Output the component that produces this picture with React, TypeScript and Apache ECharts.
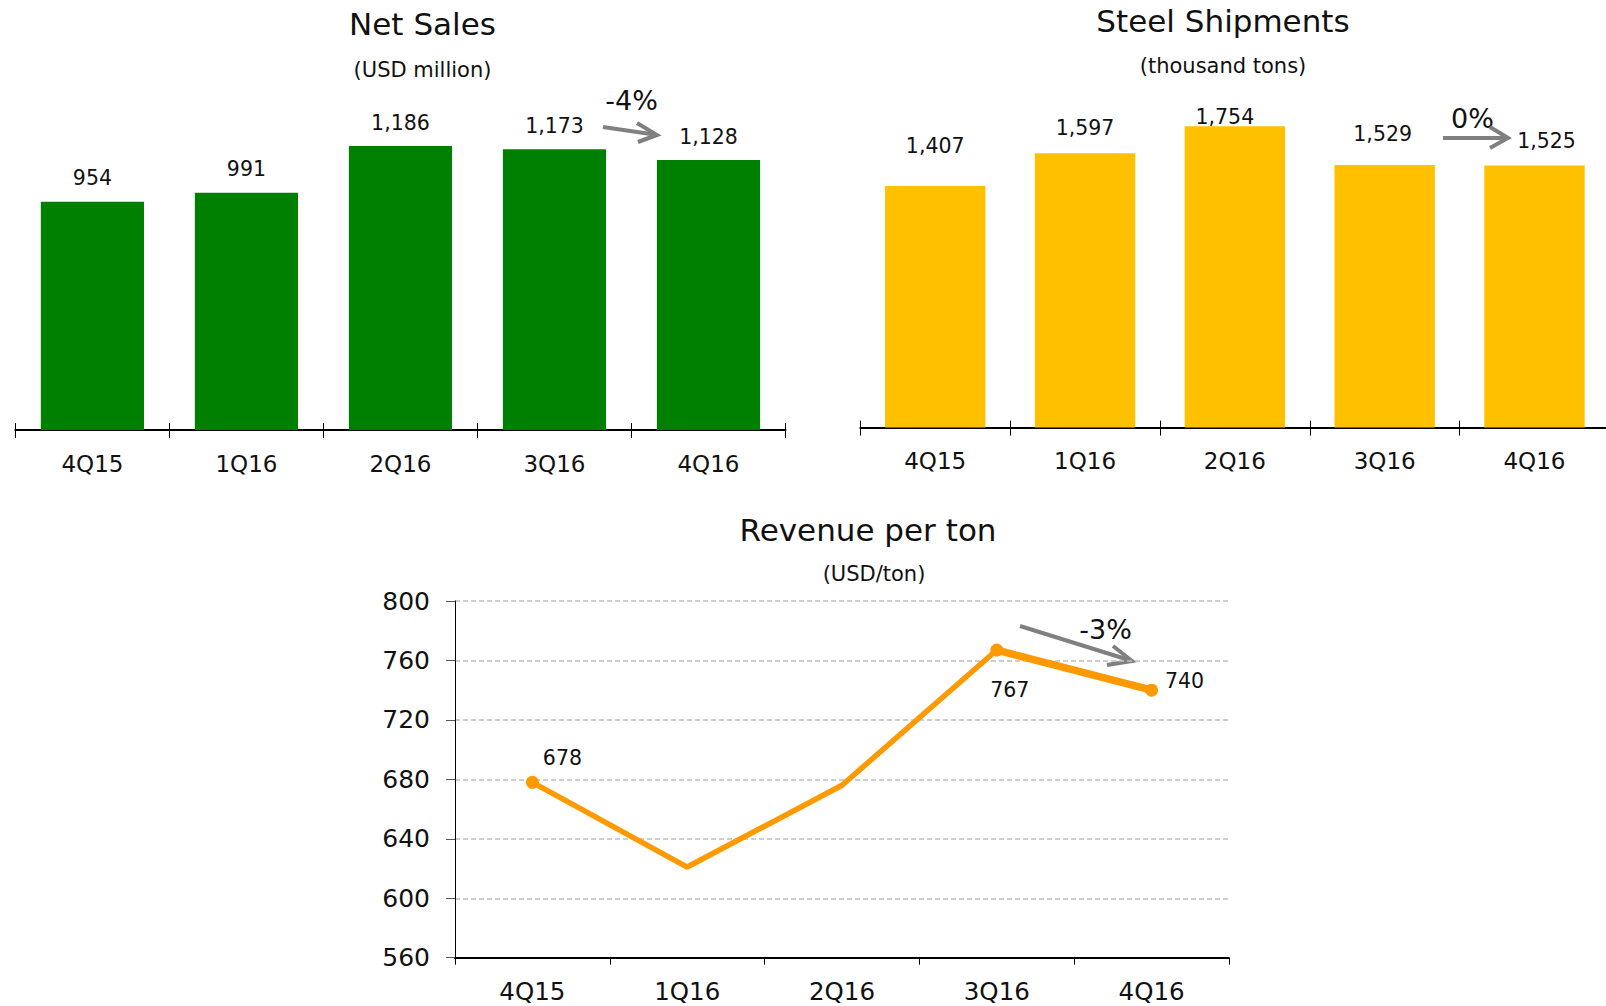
import React, { useEffect, useRef } from "react";
import * as echarts from "echarts";

// ---- data ----
const categories = ["4Q15", "1Q16", "2Q16", "3Q16", "4Q16"];
const netSales = [954, 991, 1186, 1173, 1128];
const steelShipments = [1407, 1597, 1754, 1529, 1525];
const revenuePerTon = [678, 621, 676, 767, 740];
const revenueAxisMin = 560;
const revenueAxisMax = 800;
const revenueAxisStep = 40;

// ---- styling (label nudges, marker visibility) ----
const steelLabelOffsets = [[0, -15], [0, -1], [-10, 15], [-2, -6], [12, 0]];
const revenueMarkShown = [true, false, false, true, true];
const revenueLabelOffsets = [[30, -24], [0, 0], [0, 0], [13, 40], [33, -9]];

const FONT = "DejaVu Sans";
const TEXT = "#111";
const GREEN = "#008000";
const YELLOW = "#FFC000";
const ORANGE = "#FF9900";
const ARROW = "#808080";

const fmt = (v: number) => v.toLocaleString("en-US");

function text(x: number, y: number, t: string, size: number) {
  return {
    type: "text",
    x,
    y,
    silent: true,
    style: {
      text: t,
      fontSize: size,
      fontFamily: FONT,
      fill: TEXT,
      align: "center",
      verticalAlign: "middle",
      textAlign: "center",
      textVerticalAlign: "middle",
    },
  };
}

function arrow(x1: number, y1: number, x2: number, y2: number, head: number[][]) {
  return [
    {
      type: "line",
      silent: true,
      shape: { x1, y1, x2, y2 },
      style: { stroke: ARROW, lineWidth: 4 },
    },
    {
      type: "polyline",
      silent: true,
      shape: { points: head },
      style: { stroke: ARROW, lineWidth: 4, fill: null },
    },
  ];
}

function topCategoryAxes(gridIndex: number) {
  return [
    {
      type: "category",
      gridIndex,
      position: "bottom",
      data: categories,
      axisLine: { show: true, lineStyle: { color: "#000", width: 2 } },
      axisTick: { show: true, inside: false, length: 8, interval: 0, lineStyle: { color: "#000", width: 1 } },
      axisLabel: { show: true, interval: 0, fontSize: 23, fontFamily: FONT, color: TEXT, margin: 22 },
      splitLine: { show: false },
    },
    {
      type: "category",
      gridIndex,
      position: "bottom",
      data: categories,
      axisLine: { show: false },
      axisTick: { show: true, inside: true, length: 7, interval: 0, lineStyle: { color: "#000", width: 1 } },
      axisLabel: { show: false },
      splitLine: { show: false },
    },
  ];
}

export default function App() {
  const ref = useRef<HTMLDivElement>(null);

  useEffect(() => {
    if (!ref.current) return;
    const chart = echarts.init(ref.current, null, { renderer: "svg" });

    const option: any = {
      animation: false,
      backgroundColor: "#fff",
      textStyle: { fontFamily: FONT },
      grid: [
        { left: 15.4, right: 820.5, top: 94.9, bottom: 576, containLabel: false, outerBoundsMode: "none" },
        { left: 860.3, right: -3.4, top: 84, bottom: 578.4, containLabel: false, outerBoundsMode: "none" },
        { left: 455, right: 377, top: 601, bottom: 48.3, containLabel: false, outerBoundsMode: "none" },
      ],
      xAxis: [
        ...topCategoryAxes(0),
        ...topCategoryAxes(1),
        {
          type: "category",
          gridIndex: 2,
          position: "bottom",
          data: categories,
          axisLine: { show: true, lineStyle: { color: "#000", width: 2 } },
          axisTick: { show: true, inside: false, length: 7, interval: 0, lineStyle: { color: "#000", width: 1 } },
          axisLabel: { show: true, interval: 0, fontSize: 24.5, fontFamily: FONT, color: TEXT, margin: 21 },
          splitLine: { show: false },
        },
      ],
      yAxis: [
        { type: "value", gridIndex: 0, show: false, min: 0, max: 1400, splitLine: { show: false } },
        { type: "value", gridIndex: 1, show: false, min: 0, max: 2000, splitLine: { show: false } },
        {
          type: "value",
          gridIndex: 2,
          min: revenueAxisMin,
          max: revenueAxisMax,
          interval: revenueAxisStep,
          axisLine: { show: true, lineStyle: { color: "#000", width: 1 } },
          axisTick: { show: true, inside: false, length: 9, lineStyle: { color: "#595959", width: 1 } },
          axisLabel: { fontSize: 25, fontFamily: FONT, color: TEXT, margin: 25 },
          splitLine: { show: true, lineStyle: { color: "#BFBFBF", width: 1.5, type: [5, 3] } },
        },
      ],
      series: [
        {
          type: "bar",
          name: "Net Sales",
          xAxisIndex: 0,
          yAxisIndex: 0,
          barWidth: "67%",
          data: netSales,
          itemStyle: { color: GREEN },
          label: {
            show: true,
            position: "top",
            distance: 13,
            fontSize: 20.5,
            fontFamily: FONT,
            color: TEXT,
            formatter: (p: any) => fmt(p.value),
          },
        },
        {
          type: "bar",
          name: "Steel Shipments",
          xAxisIndex: 2,
          yAxisIndex: 1,
          barWidth: "67%",
          itemStyle: { color: YELLOW },
          data: steelShipments.map((v, i) => ({
            value: v,
            label: { offset: steelLabelOffsets[i] },
          })),
          label: {
            show: true,
            position: "top",
            distance: 14,
            fontSize: 20.5,
            fontFamily: FONT,
            color: TEXT,
            formatter: (p: any) => fmt(p.value),
          },
        },
        {
          type: "line",
          name: "Revenue per ton",
          xAxisIndex: 4,
          yAxisIndex: 2,
          symbol: "circle",
          showAllSymbol: true,
          lineStyle: { color: ORANGE, width: 5.5 },
          itemStyle: { color: ORANGE },
          data: revenuePerTon.map((v, i) => ({
            value: v,
            symbolSize: revenueMarkShown[i] ? 13 : 0,
            label: { show: revenueMarkShown[i], offset: revenueLabelOffsets[i] },
          })),
          label: {
            position: "inside",
            fontSize: 20.5,
            fontFamily: FONT,
            color: TEXT,
          },
          z: 3,
        },
        {
          type: "line",
          name: "Revenue per ton (latest change)",
          xAxisIndex: 4,
          yAxisIndex: 2,
          showSymbol: false,
          symbol: "none",
          lineStyle: { color: ORANGE, width: 7.5 },
          data: revenuePerTon.map((v, i) => (i >= revenuePerTon.length - 2 ? v : null)),
          z: 2,
        },
      ],
      graphic: {
        elements: [
          text(422.5, 23.5, "Net Sales", 31),
          text(422.5, 69.5, "(USD million)", 21),
          text(1223, 21, "Steel Shipments", 31),
          text(1223, 66, "(thousand tons)", 21),
          text(868, 530, "Revenue per ton", 31),
          text(874, 573.5, "(USD/ton)", 21),
          text(631.5, 100, "-4%", 27),
          text(1472.5, 118, "0%", 27),
          text(1105.5, 629, "-3%", 27),
          ...arrow(603, 127, 654, 134.5, [[637, 123], [657, 135], [638, 142]]),
          ...arrow(1443, 138, 1505, 138, [[1490, 127], [1508, 138], [1490, 148]]),
          ...arrow(1020, 626, 1129, 660, [[1113, 646], [1132, 661], [1107, 665]]),
        ],
      },
    };

    chart.setOption(option);
    return () => chart.dispose();
  }, []);

  return (
    <div
      ref={ref}
      style={{ position: "fixed", left: 0, top: 0, width: 1606, height: 1006, background: "#fff" }}
    />
  );
}
